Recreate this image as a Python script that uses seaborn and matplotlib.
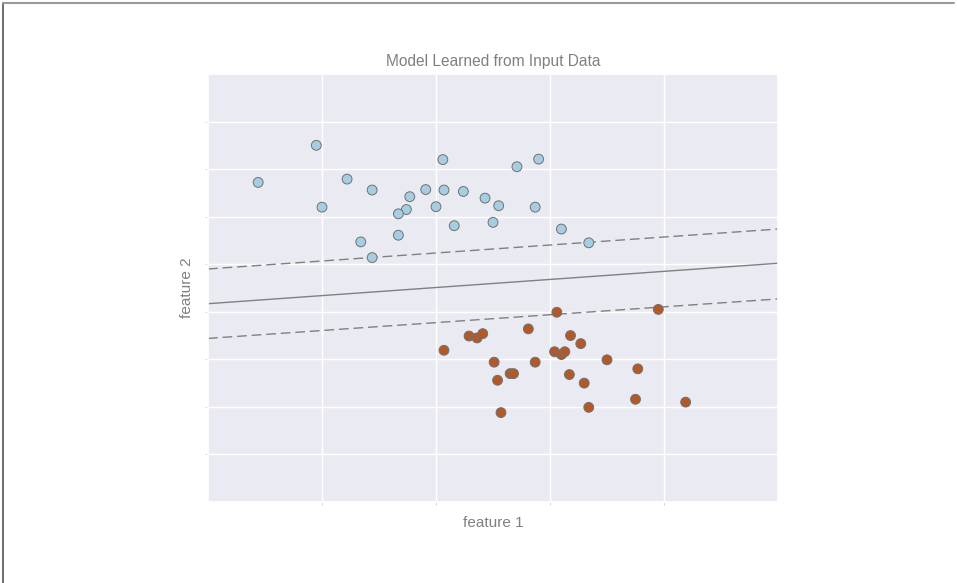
import numpy as np
import pandas as pd
import matplotlib
matplotlib.use('Agg')
import matplotlib.pyplot as plt
import seaborn as sns
from matplotlib.lines import Line2D

# input points, class 0 (light blue) and class 1 (brown)
blue_x = [-0.05, -0.56, 0.22, 0.44, 0.00, 0.77, 0.91, 0.74, 0.67, 0.67, 0.34, 0.44,
          1.06, 1.71, 1.90, 1.07, 1.24, 1.00, 1.43, 1.55, 1.87, 1.16, 1.50, 2.10, 2.34]
blue_y = [5.50, 4.72, 4.79, 4.56, 4.20, 4.42, 4.57, 4.15, 4.06, 3.61, 3.47, 3.14,
          5.20, 5.05, 5.21, 4.56, 4.53, 4.21, 4.39, 4.23, 4.20, 3.81, 3.88, 3.74, 3.45]
brown_x = [2.06, 1.81, 1.29, 1.36, 1.41, 1.07, 1.51, 1.87, 2.04, 2.10, 2.13, 1.65, 1.68,
           1.54, 1.57, 2.18, 2.17, 2.95, 2.27, 2.50, 2.77, 2.30, 2.75, 3.19, 2.34]
brown_y = [1.99, 1.64, 1.49, 1.45, 1.54, 1.19, 0.94, 0.94, 1.16, 1.10, 1.16, 0.70, 0.70,
           0.56, -0.12, 1.50, 0.68, 2.05, 1.33, 0.99, 0.80, 0.50, 0.16, 0.10, -0.01]

# decision boundary and margins, y value at x = -1 and x = 4
line_x = [-1, 4]
margin_low = [1.44, 2.27]
boundary = [2.17, 3.02]
margin_high = [2.90, 3.74]

df = pd.DataFrame({
    'x': blue_x + brown_x,
    'y': blue_y + brown_y,
    'label': [0] * len(blue_x) + [1] * len(brown_x),
})

sns.set_theme(style='darkgrid')
plt.rcParams['font.family'] = ['Liberation Sans', 'DejaVu Sans']

fig = plt.figure(figsize=(9.57, 5.83), dpi=100)
ax = fig.add_axes([208 / 957, 81 / 583, 570 / 957, 428 / 583])

sns.scatterplot(data=df, x='x', y='y', hue='label',
                palette={0: '#a6cee3', 1: '#b15928'},
                s=50, edgecolor='#707070', linewidth=0.7,
                legend=False, ax=ax, zorder=3)

ax.plot(line_x, boundary, color='gray', lw=1, zorder=2)
ax.plot(line_x, margin_low, color='gray', lw=1, dashes=(7, 3.5), zorder=2)
ax.plot(line_x, margin_high, color='gray', lw=1, dashes=(7, 3.5), zorder=2)

ax.set_xlim(-1, 4)
ax.set_ylim(-2, 7)
ax.set_xticks([0, 1, 2, 3])
ax.set_yticks([-1, 0, 1, 2, 3, 4, 5, 6])
ax.xaxis.set_major_formatter(plt.NullFormatter())
ax.yaxis.set_major_formatter(plt.NullFormatter())
ax.tick_params(left=True, bottom=True, length=2.5, width=0.7, color='#d4d4d4')

ax.set_xlabel('feature 1', color='gray', fontsize=11, labelpad=4)
ax.set_ylabel('feature 2', color='gray', fontsize=11, labelpad=4)
ax.set_title('Model Learned from Input Data', color='gray', fontsize=11.2, pad=6)

# frame around the picture
fig.add_artist(Line2D([3 / 957, 3 / 957], [0, 580 / 583], color='#555555', lw=1.2,
                      transform=fig.transFigure))
fig.add_artist(Line2D([3 / 957, 954 / 957], [580 / 583, 580 / 583], color='#9a9a9a', lw=1.5,
                      transform=fig.transFigure))

fig.savefig('out.png', dpi=100)
plt.close()
